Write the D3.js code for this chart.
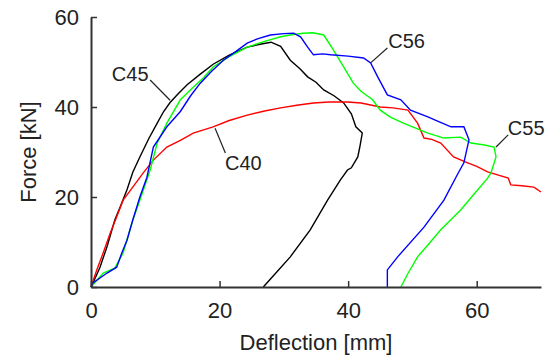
<!DOCTYPE html>
<html>
<head>
<meta charset="utf-8">
<script src="https://cdn.jsdelivr.net/npm/d3@7"></script>
<style>
	body { margin: 0; background: #fff; }
	text { font-family: "Liberation Sans", Arial, sans-serif; fill: #222; }
</style>
</head>
<body>
<div id="chart"></div>
<script>
// tick values
var xTicks = [0, 20, 40, 60];
var yTicks = [0, 20, 40, 60];

// C45 (black)
var c45Deflection = [0, 0.5, 1.4, 2.5, 3.7, 4.6, 5.6, 6.5, 7.6, 9, 10.3, 11.3, 12.3, 13.6, 15, 17, 19, 21.5, 24.3, 26.5, 28, 29.5, 31, 32.5, 33.7, 35, 36.2, 37.8, 39.3, 40.5, 41.2, 42.2, 41.8, 41.5, 40.5, 39.9, 38.8, 36.8, 34.1, 31, 29, 26.8];
var c45Force = [0, 1.5, 4.4, 9, 14.9, 18, 21.6, 25.5, 28.9, 33, 36.4, 39, 41, 43, 45, 47.3, 49.5, 51.5, 53.3, 54, 54.4, 53.5, 50.4, 48.5, 46.7, 45.5, 43.8, 42.5, 40.9, 38.5, 35.6, 34.2, 31, 28.9, 26.5, 26, 23.8, 19.3, 12.7, 6.7, 3.5, 0];

// C40 (red)
var c40Deflection = [0, 0.9, 1.9, 3, 4, 5, 6.5, 8.1, 9.7, 11.8, 13.9, 15.9, 19, 21.5, 24.3, 27, 29.5, 32, 34.6, 37, 39.9, 42, 45, 47, 49.3, 50.8, 51.8, 53, 54.4, 56.4, 58.6, 60, 61.7, 64.9, 65.3, 67, 68.9, 70];
var c40Force = [0, 3.8, 7.6, 12, 15.6, 19.3, 22.2, 25.3, 28.2, 31.1, 32.6, 34.2, 35.6, 37, 38.2, 39.1, 39.8, 40.4, 40.9, 41.1, 41.1, 40.9, 40, 39.8, 39.3, 36.4, 33.1, 32.8, 32, 28.9, 27.6, 26.8, 25.6, 24.2, 22.7, 22.5, 22.2, 21.1];

// C55 (green)
var c55Deflection = [0, 1.9, 3.7, 5, 6.5, 7.6, 9.2, 10.3, 11.8, 13.9, 15.9, 17.5, 19, 21.5, 24.3, 27, 29.5, 31, 33, 34.5, 36.2, 37.7, 39.3, 40.8, 42, 43.8, 45, 46.5, 48.6, 50.5, 52.4, 54.9, 57.5, 59.1, 61, 62.7, 63, 62.2, 61.7, 59.5, 57.5, 54.4, 52.5, 50.8, 49.3, 48.2];
var c55Force = [0, 3.1, 4.2, 7.6, 14.9, 19.3, 26, 32, 36.4, 41.6, 44.4, 46.5, 48.9, 51.2, 53.3, 54.6, 55.6, 56, 56.4, 56.5, 56, 52.7, 48.9, 45.3, 43.5, 41.6, 39.3, 37.8, 36.4, 35.3, 34.2, 33.1, 33.3, 32, 31.6, 31.1, 28.9, 25.3, 24.2, 20.5, 17.1, 12.7, 9.5, 6.7, 3, 0];

// C56 (blue)
var c56Deflection = [0, 0.3, 2.5, 4, 4.8, 5.6, 6.5, 7.6, 8.7, 9.7, 11.8, 13.9, 15.5, 17, 18.8, 20.6, 22.5, 24.3, 26, 27.9, 30, 31.5, 32.6, 33.7, 34.6, 36, 37.3, 40, 42.4, 43.5, 44.6, 46.1, 48.2, 49.7, 52.4, 54, 56, 58, 58.8, 58, 57, 54.9, 51.8, 47.7, 46.1, 46.1];
var c56Force = [0, 0.9, 3.1, 4.4, 7.6, 10.4, 14.9, 20, 24.4, 31.1, 35.6, 39, 42.5, 45.3, 48, 50.4, 52.3, 54.2, 55.2, 56, 56.3, 56.4, 55.6, 53.3, 51.6, 51.8, 51.6, 51.3, 50.9, 49.8, 46.7, 42.7, 41.6, 39.3, 37.8, 36.8, 35.6, 35.6, 32.7, 27.6, 25, 19.3, 13.3, 6.7, 3.8, 0];

// series
var series = [
	{ name: "C45", color: "#000000", x: c45Deflection, y: c45Force },
	{ name: "C40", color: "#ff0000", x: c40Deflection, y: c40Force },
	{ name: "C55", color: "#00ff00", x: c55Deflection, y: c55Force },
	{ name: "C56", color: "#0000ff", x: c56Deflection, y: c56Force }
];

// width and height
var totalWidth = 550,
	totalHeight = 362;

// margin
var margin = { left: 91, right: 9, top: 17, bottom: 75 };

var width = totalWidth - margin.left - margin.right;
var height = totalHeight - margin.top - margin.bottom;

// svg
var svg = d3.select("#chart")
	.append("svg")
	.attr("width", totalWidth)
	.attr("height", totalHeight);

var g = svg.append("g")
	.attr("transform", "translate(" + margin.left + ", " + margin.top + ")");

// x and y
var x = d3.scaleLinear()
	.domain([0, 70])
	.range([0, width]);

var y = d3.scaleLinear()
	.domain([0, 60])
	.range([height, 0]);

// curves
var line = d3.line()
	.x(function(d){ return x(d[0]); })
	.y(function(d){ return y(d[1]); });

g.selectAll(".curve")
	.data(series)
	.enter()
	.append("path")
		.attr("class", "curve")
		.attr("fill", "none")
		.attr("stroke", function(d){ return d.color; })
		.attr("stroke-width", 1.4)
		.attr("d", function(d){
			return line(d.x.map(function(v, i){ return [v, d.y[i]]; }));
		});

// axes
var xAxisCall = d3.axisBottom(x)
	.tickValues(xTicks)
	.tickSizeInner(-6)
	.tickSizeOuter(0)
	.tickPadding(12);
var xAxis = g.append("g")
	.attr("transform", "translate(0, " + height + ")")
	.call(xAxisCall);

var yAxisCall = d3.axisLeft(y)
	.tickValues(yTicks)
	.tickSizeInner(-6)
	.tickSizeOuter(0)
	.tickPadding(12);
var yAxis = g.append("g")
	.call(yAxisCall);

[xAxis, yAxis].forEach(function(a){
	a.select(".domain").attr("stroke", "#333").attr("stroke-width", 2);
	a.selectAll(".tick line").attr("stroke", "#333").attr("stroke-width", 1.5);
	a.selectAll(".tick text")
		.attr("font-size", "22px")
		.attr("font-family", "'Liberation Sans', Arial, sans-serif")
		.attr("fill", "#222");
});
xAxis.selectAll(".tick text").attr("dy", "0.85em");

// axis labels
svg.append("text")
	.attr("x", margin.left + x(35))
	.attr("y", 350)
	.attr("text-anchor", "middle")
	.attr("font-size", "22px")
	.text("Deflection [mm]");

svg.append("text")
	.attr("transform", "translate(36, " + (margin.top + y(30)) + ") rotate(-90)")
	.attr("text-anchor", "middle")
	.attr("font-size", "22px")
	.text("Force [kN]");

// curve labels with leader lines (data coordinates)
var labels = [
	{ text: "C45", from: [12.3, 41.5], to: [9.2, 46], at: [6.1, 47.3] },
	{ text: "C40", from: [19.3, 35.3], to: [20.9, 29.8], at: [23.7, 27.6] },
	{ text: "C56", from: [43.5, 49.8], to: [46.1, 53.1], at: [49.1, 54.7] },
	{ text: "C55", from: [63, 31.1], to: [64.9, 33.8], at: [67.7, 35.3] }
];

g.selectAll(".leader")
	.data(labels)
	.enter()
	.append("line")
		.attr("class", "leader")
		.attr("stroke", "#222")
		.attr("stroke-width", 1.2)
		.attr("x1", function(d){ return x(d.from[0]); })
		.attr("y1", function(d){ return y(d.from[1]); })
		.attr("x2", function(d){ return x(d.to[0]); })
		.attr("y2", function(d){ return y(d.to[1]); });

g.selectAll(".curve-label")
	.data(labels)
	.enter()
	.append("text")
		.attr("class", "curve-label")
		.attr("x", function(d){ return x(d.at[0]); })
		.attr("y", function(d){ return y(d.at[1]); })
		.attr("dy", "0.35em")
		.attr("text-anchor", "middle")
		.attr("font-size", "20px")
		.text(function(d){ return d.text; });
</script>
</body>
</html>
